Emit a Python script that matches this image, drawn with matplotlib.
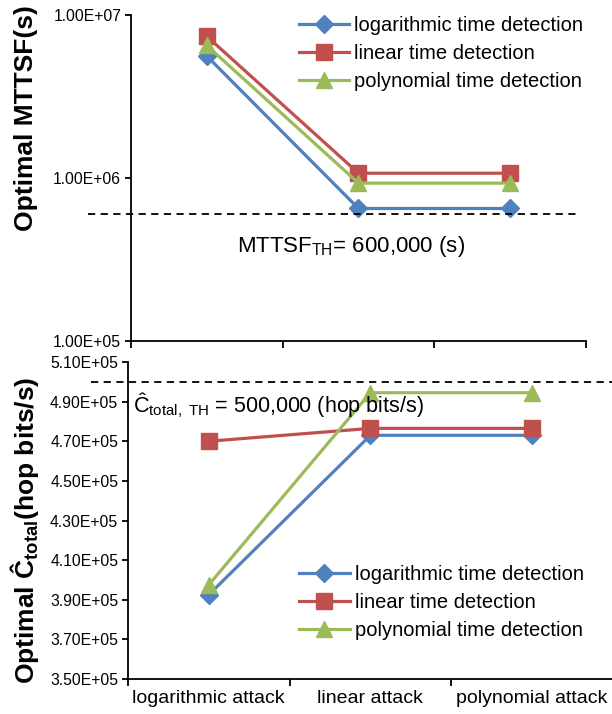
import numpy as np
import matplotlib.pyplot as plt
from matplotlib.ticker import FixedLocator, FuncFormatter, NullLocator

plt.rcParams['font.family'] = ['Liberation Sans', 'DejaVu Sans']
plt.rcParams['mathtext.fontset'] = 'custom'
plt.rcParams['mathtext.rm'] = 'Liberation Sans'
plt.rcParams['mathtext.bf'] = 'Liberation Sans:bold'
plt.rcParams['mathtext.it'] = 'Liberation Sans:italic'

# Data
attacks = ["logarithmic attack", "linear attack", "polynomial attack"]
series = ["logarithmic time detection", "linear time detection", "polynomial time detection"]
mttsf_log = [5.6e6, 6.5e5, 6.5e5]
mttsf_lin = [7.4e6, 1.07e6, 1.07e6]
mttsf_poly = [6.5e6, 9.3e5, 9.3e5]
ctotal_log = [3.925e5, 4.73e5, 4.73e5]
ctotal_lin = [4.70e5, 4.765e5, 4.765e5]
ctotal_poly = [3.975e5, 4.945e5, 4.945e5]
mttsf_th = 6.0e5
ctotal_th = 5.0e5

colors = ["#4F81BD", "#C0504D", "#9BBB59"]
markers = ["D", "s", "^"]
msizes = [9.5, 11.5, 12]

fig = plt.figure(figsize=(6.12, 7.14), dpi=100)
ax1 = fig.add_axes([0.214, 0.5224, 0.7435, 0.4566])
ax2 = fig.add_axes([0.209, 0.049, 0.7925, 0.444])

x = np.arange(len(attacks))

def style_axes(ax):
    for s in ["top", "right"]:
        ax.spines[s].set_visible(False)
    for s in ["left", "bottom"]:
        ax.spines[s].set_linewidth(1.3)
    ax.set_xlim(-0.5, 2.5)
    ax.xaxis.set_major_locator(FixedLocator([-0.5, 0.5, 1.5, 2.5]))
    ax.xaxis.set_minor_locator(FixedLocator(list(x)))
    ax.tick_params(axis="x", which="major", direction="out", length=5, width=1.3, labelbottom=False)
    ax.tick_params(axis="x", which="minor", length=0, labelsize=14, pad=8)
    ax.tick_params(axis="y", which="major", direction="out", length=4, width=1.3, labelsize=11.3, pad=3)

# Top panel
for vals, lab, c, m, ms in zip([mttsf_log, mttsf_lin, mttsf_poly], series, colors, markers, msizes):
    ax1.plot(x, vals, color=c, marker=m, markersize=ms, linewidth=2.3, label=lab)
ax1.set_yscale("log")
ax1.set_ylim(1e5, 1e7)
ax1.yaxis.set_major_locator(FixedLocator([1e5, 1e6, 1e7]))
ax1.yaxis.set_minor_locator(NullLocator())
ax1.yaxis.set_major_formatter(FuncFormatter(lambda v, p: "%.2E" % v))
style_axes(ax1)
ax1.set_xticklabels([], minor=True)
ax1.plot([-0.095, 0.987], [mttsf_th, mttsf_th], transform=ax1.get_yaxis_transform(),
         color="black", linestyle=(0, (4, 3)), linewidth=1.3, clip_on=False)
ax1.text(0.4835, 0.29, r"MTTSF$_{\rm TH}$= 600,000 (s)", transform=ax1.transAxes,
         ha="center", va="center", fontsize=16)
ax1.set_ylabel("Optimal MTTSF(s)", fontsize=19, fontweight="bold")
ax1.yaxis.set_label_coords(-0.205, 0.684)
ax1.legend(loc="upper right", bbox_to_anchor=(1.034, 1.053), frameon=False, fontsize=14.5,
           handlelength=2.5, labelspacing=0.45, handletextpad=0.25)

# Bottom panel
for vals, lab, c, m, ms in zip([ctotal_log, ctotal_lin, ctotal_poly], series, colors, markers, msizes):
    ax2.plot(x, vals, color=c, marker=m, markersize=ms, linewidth=2.3, label=lab)
ax2.set_ylim(3.5e5, 5.1e5)
ax2.yaxis.set_major_locator(FixedLocator(np.arange(3.5e5, 5.11e5, 0.2e5)))
ax2.yaxis.set_major_formatter(FuncFormatter(lambda v, p: "%.2E" % v))
style_axes(ax2)
ax2.set_xticklabels(attacks, minor=True)
ax2.plot([-0.076, 1.0], [ctotal_th, ctotal_th], transform=ax2.get_yaxis_transform(),
         color="black", linestyle=(0, (4, 3)), linewidth=1.3, clip_on=False)
ax2.text(0.01, 0.864, "Ĉ$_{\\rm total,\\ TH}$ = 500,000 (hop bits/s)", transform=ax2.transAxes,
         ha="left", va="center", fontsize=15.5)
ax2.set_ylabel("Optimal Ĉ$_{\\mathbf{total}}$(hop bits/s)", fontsize=19, fontweight="bold")
ax2.yaxis.set_label_coords(-0.18, 0.47)
ax2.legend(loc="lower right", bbox_to_anchor=(0.977, 0.066), frameon=False, fontsize=14.5,
           handlelength=2.5, labelspacing=0.45, handletextpad=0.25)

fig.savefig("out.png", dpi=100)
